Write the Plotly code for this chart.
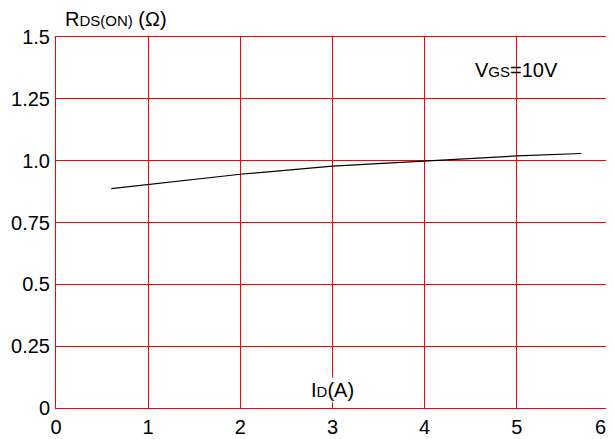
import plotly.graph_objects as go

id_a = [0.6, 1, 2, 3, 4, 5, 5.7]
rds_on = [0.887, 0.903, 0.945, 0.978, 1.0, 1.019, 1.029]

x_ticks = [0, 1, 2, 3, 4, 5, 6]
# trailing spaces pull the last label in so it is not cut at the page edge
x_labels = ['0', '1', '2', '3', '4', '5', '6\u00a0\u00a0\u00a0']
y_ticks = [0, 0.25, 0.5, 0.75, 1.0, 1.25, 1.5]
y_labels = ['0', '0.25', '0.5', '0.75', '1.0', '1.25', '1.5']

fig = go.Figure()

fig.add_trace(go.Scatter(
    x=id_a,
    y=rds_on,
    mode='lines',
    line=dict(color='black', width=1.2),
    showlegend=False,
))

axis_common = dict(
    showgrid=True,
    gridcolor='#ff0000',
    gridwidth=1,
    showline=True,
    linecolor='#ff0000',
    linewidth=1,
    mirror=True,
    zeroline=False,
    ticks='',
    automargin=False,
    ticklabeloverflow='allow',
    tickfont=dict(family='Liberation Sans, Arial', size=20, color='black'),
)

# page body has an 8px margin, so the figure is 8px smaller than the window
fig.update_layout(
    width=606,
    height=431,
    margin=dict(l=48, r=5, t=29, b=31),
    plot_bgcolor='white',
    paper_bgcolor='white',
    font=dict(family='Liberation Sans, Arial', color='black'),
    xaxis=dict(range=[0, 6], tickvals=x_ticks, ticktext=x_labels,
               ticklabelstandoff=1, **axis_common),
    yaxis=dict(range=[0, 1.5], tickvals=y_ticks, ticktext=y_labels,
               ticklabelstandoff=1, **axis_common),
)

fig.add_annotation(
    x=0.08, y=1, xref='x', yref='paper', xanchor='left', yanchor='bottom',
    yshift=5,
    text="R<span style='font-size:15px'>DS(ON)</span> (Ω)",
    showarrow=False, font=dict(size=20, color='black'),
)
fig.add_annotation(
    x=3, y=0.02, xanchor='center', yanchor='bottom',
    text="I<span style='font-size:15px'>D</span>(A)",
    showarrow=False, font=dict(size=20, color='black'),
    bgcolor='white',
)
fig.add_annotation(
    x=5.0, y=1.365, xanchor='center', yanchor='middle',
    text="V<span style='font-size:15px'>GS</span>=10V",
    showarrow=False, font=dict(size=20, color='black'),
)

fig.write_html("out.html")
